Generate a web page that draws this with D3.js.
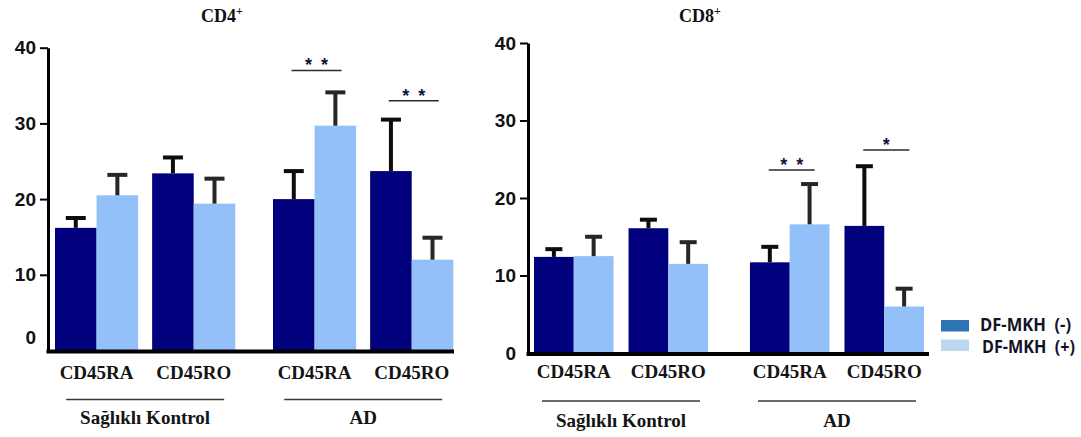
<!DOCTYPE html>
<html>
<head>
<meta charset="utf-8">
<script src="https://cdn.jsdelivr.net/npm/d3@7"></script>
<style>
  html, body { margin: 0; padding: 0; background: #fff; }
  svg { display: block; }
</style>
</head>
<body>
<svg id="chart" width="1081" height="437"></svg>
<script>
// ---- data ----
const groups = ["Sağlıklı Kontrol", "AD"];
const cells = ["CD45RA", "CD45RO"];
const series = ["DF-MKH  (-)", "DF-MKH  (+)"];
const yTicks = [0, 10, 20, 30, 40];

// CD4+ : mean and SD, order = [Kontrol RA, Kontrol RO, AD RA, AD RO]
const cd4Neg   = [16.2, 23.4, 20.0, 23.7];
const cd4NegSd = [1.3, 2.1, 3.7, 6.8];
const cd4Pos   = [20.5, 19.4, 29.7, 12.0];
const cd4PosSd = [2.7, 3.3, 4.4, 2.9];

// CD8+
const cd8Neg   = [12.4, 16.1, 11.7, 16.4];
const cd8NegSd = [1.0, 1.1, 2.0, 7.7];
const cd8Pos   = [12.5, 11.5, 16.6, 6.0];
const cd8PosSd = [2.5, 2.8, 5.2, 2.3];

// significance marks: [group, cell, stars, level on y scale]
const cd4Sig = [["AD", "CD45RA", 2, 37.0], ["AD", "CD45RO", 2, 33.0]];
const cd8Sig = [["AD", "CD45RA", 2, 23.6], ["AD", "CD45RO", 1, 26.2]];

// ---- styles ----
const barColors = ["#01017e", "#93c0f8"];
const legendColors = ["#2e74b5", "#bdd7ee"];
const errColors = ["#0d0d0d", "#262626"];
const serif = "'Liberation Serif', 'Times New Roman', serif";
const sans = "'Liberation Sans', Arial, sans-serif";

const svg = d3.select("#chart");

function rows(neg, negSd, pos, posSd) {
  const out = [];
  groups.forEach((g, gi) => cells.forEach((c, ci) => {
    const i = gi * 2 + ci;
    out.push({ group: g, cell: c, series: series[0], s: 0, mean: neg[i], sd: negSd[i] });
    out.push({ group: g, cell: c, series: series[1], s: 1, mean: pos[i], sd: posSd[i] });
  }));
  return out;
}

function panel(opt) {
  const y = d3.scaleLinear().domain([0, 40]).range([opt.y0, opt.y40]);
  const xg = d3.scaleBand().domain(groups).range(opt.barRange).paddingInner(opt.groupPad);
  const xc = d3.scaleBand().domain(cells).range([0, xg.bandwidth()]).paddingInner(opt.cellPad);
  const xs = d3.scaleBand().domain(series).range([0, xc.bandwidth()]);
  const cx = (g, c) => xg(g) + xc(c) + xc.bandwidth() / 2;
  const bx = d => xg(d.group) + xc(d.cell) + xs(d.series) + xs.bandwidth() / 2;

  const g = svg.append("g");

  // title
  const t = g.append("text")
    .attr("x", opt.titleX).attr("y", 22)
    .attr("text-anchor", "middle")
    .style("font-family", serif).style("font-weight", "bold")
    .style("font-size", "18px").attr("fill", "#111");
  t.append("tspan").text(opt.title);
  t.append("tspan").attr("dy", -7).style("font-size", "12px").text("+");

  // bars
  g.selectAll("rect.bar").data(opt.data).join("rect")
    .attr("class", "bar")
    .attr("x", d => xg(d.group) + xc(d.cell) + xs(d.series))
    .attr("width", xs.bandwidth())
    .attr("y", d => y(d.mean))
    .attr("height", d => y(0) - y(d.mean))
    .attr("fill", d => barColors[d.s]);

  // error bars (upper only)
  const eb = g.selectAll("g.err").data(opt.data).join("g").attr("class", "err");
  eb.append("line")
    .attr("x1", bx).attr("x2", bx)
    .attr("y1", d => y(d.mean))
    .attr("y2", d => y(d.mean + d.sd))
    .attr("stroke", d => errColors[d.s]).attr("stroke-width", 4);
  eb.append("line")
    .attr("x1", d => bx(d) - opt.capW / 2)
    .attr("x2", d => bx(d) + opt.capW / 2)
    .attr("y1", d => y(d.mean + d.sd))
    .attr("y2", d => y(d.mean + d.sd))
    .attr("stroke", d => errColors[d.s]).attr("stroke-width", 4);

  // y axis
  const ax = g.append("g")
    .attr("transform", `translate(${opt.axisX},0)`)
    .call(d3.axisLeft(y).tickValues(yTicks).tickSize(8).tickPadding(4).tickSizeOuter(0));
  ax.select(".domain").attr("stroke", "#000").attr("stroke-width", 3);
  ax.selectAll(".tick line").attr("stroke", "#000").attr("stroke-width", 2);
  ax.selectAll(".tick text")
    .style("font-family", sans).style("font-weight", "bold")
    .style("font-size", "19px").attr("fill", "#111");
  ax.selectAll(".tick").filter(d => d === 0).select("line").remove();
  ax.selectAll(".tick").filter(d => d === 0).select("text").attr("dy", opt.zeroDy);

  // x axis baseline
  g.append("line")
    .attr("x1", opt.axisX - 1.5).attr("x2", opt.axisEnd)
    .attr("y1", y(0) + 1).attr("y2", y(0) + 1)
    .attr("stroke", "#000").attr("stroke-width", 4);

  // category labels
  groups.forEach(gr => cells.forEach(c => {
    g.append("text")
      .attr("x", cx(gr, c)).attr("y", opt.catY)
      .attr("text-anchor", "middle")
      .style("font-family", serif).style("font-weight", "bold")
      .style("font-size", "19px").attr("fill", "#141414")
      .text(c);
  }));

  // group brackets and names
  groups.forEach(gr => {
    const mid = xg(gr) + xg.bandwidth() / 2;
    g.append("line")
      .attr("x1", mid - 79).attr("x2", mid + 79)
      .attr("y1", opt.groupLineY).attr("y2", opt.groupLineY)
      .attr("stroke", "#3a3a3a").attr("stroke-width", 1.6);
    g.append("text")
      .attr("x", mid).attr("y", opt.groupTextY)
      .attr("text-anchor", "middle")
      .style("font-family", serif).style("font-weight", "bold")
      .style("font-size", "19px").attr("fill", "#141414")
      .text(gr);
  });

  // significance marks
  opt.sig.forEach(([gr, c, n, lvl]) => {
    const mid = cx(gr, c) + 2;
    g.append("line")
      .attr("x1", mid - opt.sigW / 2).attr("x2", mid + opt.sigW / 2)
      .attr("y1", y(lvl)).attr("y2", y(lvl))
      .attr("stroke", "#2a2a2a").attr("stroke-width", 1.5);
    const offs = n === 2 ? [-8, 8] : [0];
    offs.forEach(o => {
      g.append("text")
        .attr("x", mid + o).attr("y", y(lvl) + 1)
        .attr("text-anchor", "middle")
        .style("font-family", sans).style("font-weight", "bold")
        .style("font-size", "18px").attr("fill", "#15153a")
        .text("*");
    });
  });
}

panel({
  title: "CD4", titleX: 222,
  data: rows(cd4Neg, cd4NegSd, cd4Pos, cd4PosSd),
  sig: cd4Sig,
  y0: 350.5, y40: 47.7,
  axisX: 48, axisEnd: 454,
  barRange: [55, 453.3], groupPad: 0.173, cellPad: 0.144,
  capW: 20, zeroDy: "-0.35em", sigW: 50,
  catY: 379, groupLineY: 399.5, groupTextY: 424
});

panel({
  title: "CD8", titleX: 700,
  data: rows(cd8Neg, cd8NegSd, cd8Pos, cd8PosSd),
  sig: cd8Sig,
  y0: 353, y40: 43,
  axisX: 528, axisEnd: 929,
  barRange: [534, 924], groupPad: 0.194, cellPad: 0.159,
  capW: 17, zeroDy: "0.32em", sigW: 46,
  catY: 378, groupLineY: 401, groupTextY: 427
});

// legend
const lg = svg.append("g").attr("transform", "translate(941,320)");
series.forEach((s, i) => {
  lg.append("rect")
    .attr("x", 0).attr("y", i * 19.5)
    .attr("width", 28).attr("height", 11.5)
    .attr("fill", legendColors[i]);
  lg.append("text")
    .attr("x", 39 + i * 2).attr("y", 5 + i * 22)
    .attr("dy", "0.36em")
    .attr("textLength", 91 + i * 2).attr("lengthAdjust", "spacingAndGlyphs")
    .style("font-family", "'Open Sans', sans-serif").style("font-weight", "bold")
    .style("font-size", "17px").style("white-space", "pre")
    .attr("fill", "#121228")
    .text(s);
});
</script>
</body>
</html>
